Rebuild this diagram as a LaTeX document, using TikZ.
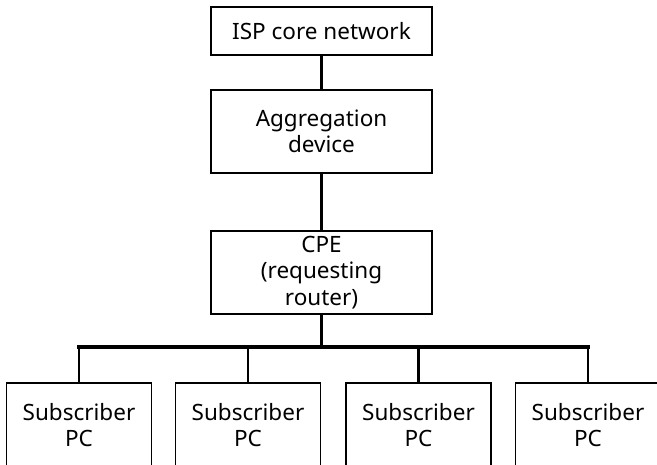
\documentclass[tikz,border=0pt]{standalone}
\usepackage{fontspec}
\setmainfont{Noto Sans}
\usepackage{tikz}
\tikzset{
  kasten/.style={draw=black,line width=1.2pt,fill=white,inner sep=0pt,align=center,
    font=\fontsize{22.5}{26.5}\selectfont},
  oben/.style={kasten,minimum width=221pt},
  pc/.style={kasten,minimum width=145pt,minimum height=84pt},
  leitung/.style={black,line width=3.4pt},
}

\begin{document}
\begin{tikzpicture}[x=1pt,y=-1pt]
  \useasboundingbox (0,0) rectangle (657,465);
  \clip (0,0) rectangle (657,465);
  \node[oben,minimum height=48pt] (isp) at (321.5,31) {ISP core network};
  \node[oben,minimum height=83pt] (agg) at (321.5,131.5) {Aggregation\\device};
  \node[oben,minimum height=83pt] (cpe) at (321.5,272.5) {CPE\\(requesting\\router)};
  \node[pc] (pc1) at (79,425) {Subscriber\\PC};
  \node[pc] (pc2) at (248,425) {Subscriber\\PC};
  \node[pc] (pc3) at (418.5,425) {Subscriber\\PC};
  \node[pc] (pc4) at (588,425) {Subscriber\\PC};
  \coordinate (bus) at (321.5,347);
  \draw[leitung] (isp) -- (agg);
  \draw[leitung] (agg) -- (cpe);
  \draw[leitung] (cpe) -- (bus);
  \draw[leitung,line cap=rect] (pc1 |- bus) -- (pc4 |- bus);
  \foreach \p in {pc1,pc2,pc3,pc4}
    \draw[leitung,line width=2.6pt] (\p |- bus) -- (\p);
\end{tikzpicture}
\end{document}
